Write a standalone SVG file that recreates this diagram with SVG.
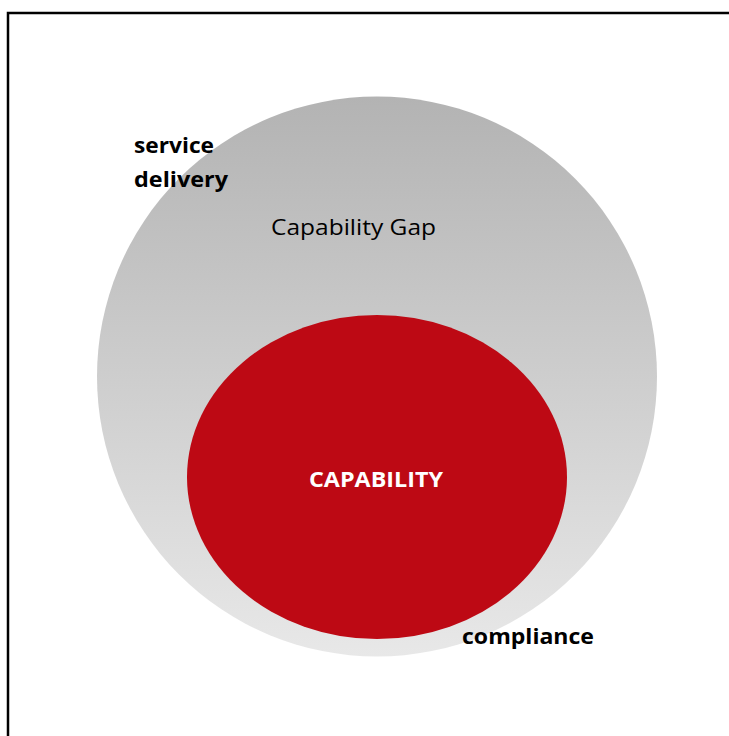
<svg xmlns="http://www.w3.org/2000/svg" width="729" height="736" viewBox="0 0 729 736">
<defs>
<linearGradient id="gap" x1="0" y1="0" x2="0" y2="1">
<stop offset="0" stop-color="#b3b3b3"/>
<stop offset="1" stop-color="#e8e8e8"/>
</linearGradient>
</defs>
<style>
.lbl{font-family:"Open Sans","Noto Sans","Liberation Sans",sans-serif;font-size:22px;fill:#000}
.b{font-weight:bold}
</style>
<rect width="729" height="736" fill="#fff"/>
<rect x="8" y="13" width="740" height="740" fill="none" stroke="#000" stroke-width="2.5"/>
<g id="gap-node">
<circle cx="377" cy="376.5" r="280" fill="url(#gap)"/>
<text class="lbl" x="271" y="235" textLength="165" lengthAdjust="spacingAndGlyphs">Capability Gap</text>
</g>
<g id="capability">
<ellipse cx="377" cy="477" rx="190" ry="162" fill="#bd0914"/>
<text class="lbl b" x="309" y="487" textLength="134" lengthAdjust="spacingAndGlyphs" style="fill:#fff">CAPABILITY</text>
</g>
<g id="service-delivery">
<text class="lbl b" x="134" y="153" textLength="80" lengthAdjust="spacingAndGlyphs">service</text>
<text class="lbl b" x="134" y="187" textLength="94" lengthAdjust="spacingAndGlyphs">delivery</text>
</g>
<g id="compliance">
<text class="lbl b" x="462" y="644" textLength="132" lengthAdjust="spacingAndGlyphs">compliance</text>
</g>
<g id="connectors"/>
</svg>
